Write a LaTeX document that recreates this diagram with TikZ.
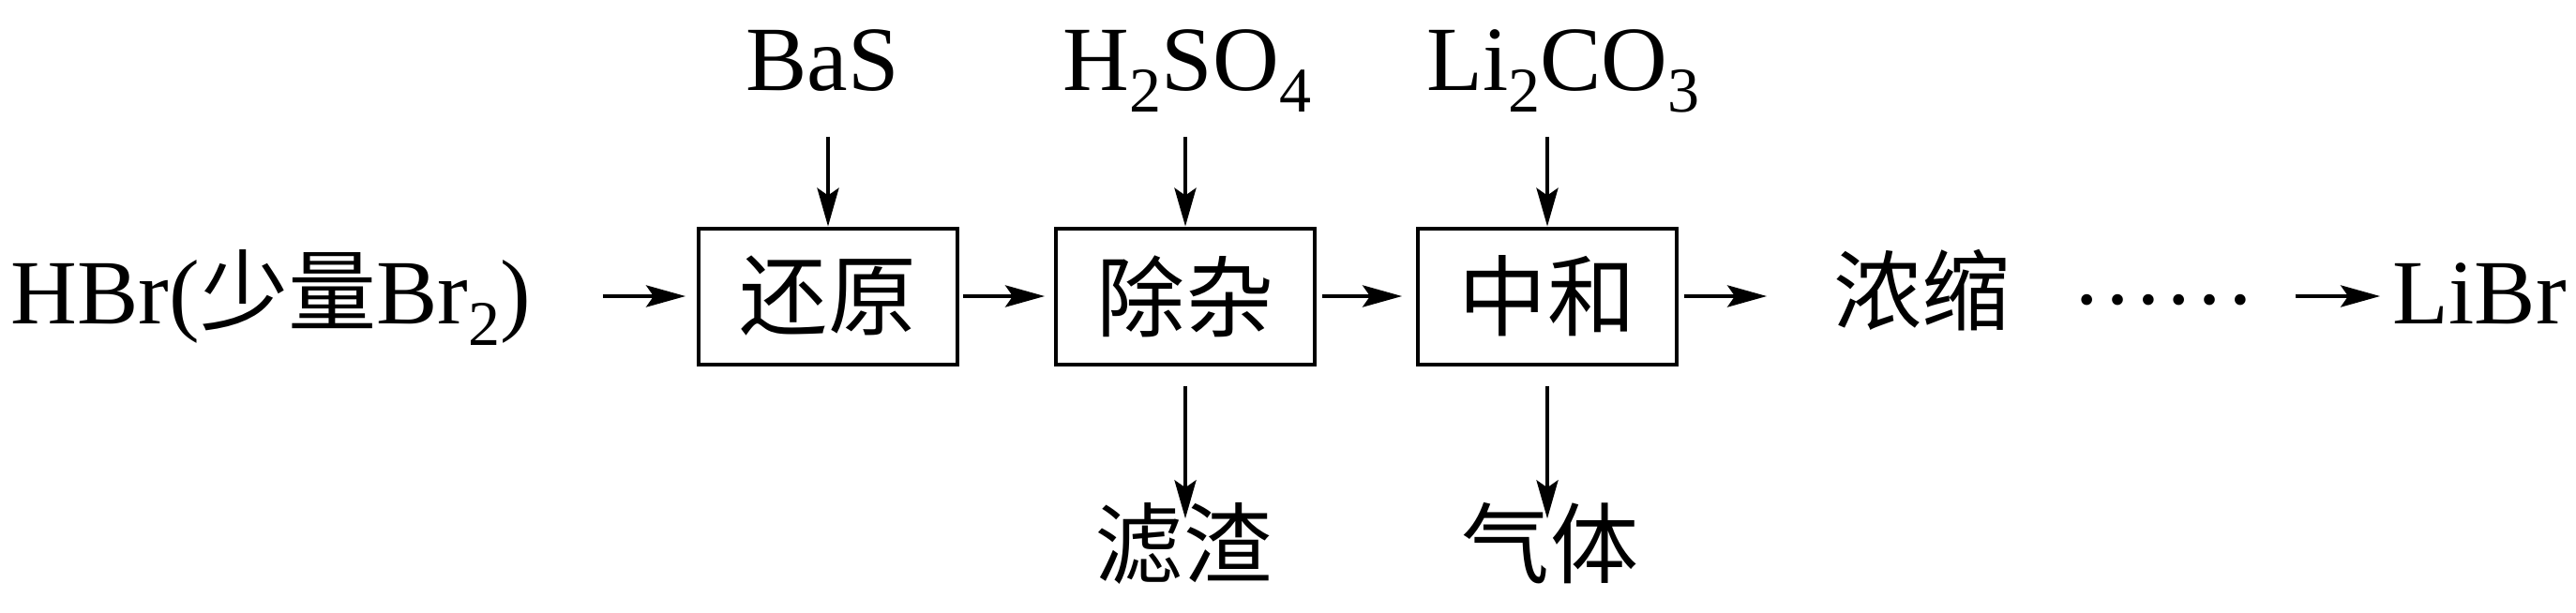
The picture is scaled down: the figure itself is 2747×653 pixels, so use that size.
\documentclass[tikz,border=0pt]{standalone}
\usepackage{fontspec}
\setmainfont{Liberation Serif}
\newfontfamily\cjk{Noto Sans CJK SC}[Scale=0.96]
\usetikzlibrary{arrows.meta}
\newcommand\chsub[1]{\raisebox{-0.24em}{\fontsize{17pt}{17pt}\selectfont #1}}
\begin{document}
\begin{tikzpicture}[x=0.25pt,y=-0.25pt,
  every node/.style={font=\fontsize{24.5pt}{26pt}\selectfont, inner sep=0pt},
  procbox/.style={draw, line width=1pt, minimum width=69pt, minimum height=36.25pt},
  harr/.style={line width=0.9pt, -{Stealth[length=10.5pt,width=5.8pt,inset=2pt]}},
  varr/.style={line width=0.8pt, -{Stealth[length=10.25pt,width=5.8pt,inset=2pt]}},
  toplbl/.style={anchor=base, text depth=0pt},
  botlbl/.style={anchor=base, text height=0.8em, text depth=0.2em},
  rowlbl/.style={anchor=base west},
  ]
\useasboundingbox (0,0) rectangle (2747,653);
% process boxes
\node[procbox] (b1) at (883,316) {\cjk 还原};
\node[procbox] (b2) at (1264,316) {\cjk 除杂};
\node[procbox] (b3) at (1650,316) {\cjk 中和};
% main row texts
\node[rowlbl] (hbr) at (11,345) {HBr({\cjk 少量}Br\chsub{2})};
\node[rowlbl] (nong) at (1955,345) {\cjk 浓缩};
\node[rowlbl] (dots) at (2209,345) {\raisebox{0.21em}{……}};
\node[rowlbl] (libr) at (2551,345) {LiBr};
% top reagents
\node[toplbl] (bas) at (877,96) {BaS};
\node[toplbl] (hs) at (1266,96) {H\chsub{2}SO\chsub{4}};
\node[toplbl] (lc) at (1667,96) {Li\chsub{2}CO\chsub{3}};
% bottom products
\node[botlbl] (lz) at (1262,615) {\cjk 滤渣};
\node[botlbl] (qt) at (1653,615) {\cjk 气体};
% horizontal arrows
\draw[harr, shorten <=19pt, shorten >=3pt] (b1.west -| hbr.east) -- (b1.west);
\draw[harr, shorten <=1pt, shorten >=2.5pt] (b1.east) -- (b2.west);
\draw[harr, shorten <=1.5pt, shorten >=3.75pt] (b2.east) -- (b3.west);
\draw[harr, shorten <=1.5pt, shorten >=17.75pt] (b3.east) -- (b3.east -| nong.west);
\draw[harr, shorten <=10.25pt, shorten >=3.25pt] (b3.east -| dots.east) -- (b3.east -| libr.west);
% vertical arrows
\draw[varr, shorten <=12.25pt] (b1.north |- bas.south) -- (b1.north);
\draw[varr, shorten <=12.25pt] (b2.north |- hs.south) -- (b2.north);
\draw[varr, shorten <=12.25pt] (b3.north |- lc.south) -- (b3.north);
\draw[varr, shorten <=5.25pt, shorten >=7.25pt] (b2.south) -- (b2.south |- lz.north);
\draw[varr, shorten <=5.25pt, shorten >=7.25pt] (b3.south) -- (b3.south |- qt.north);
\end{tikzpicture}
\end{document}
